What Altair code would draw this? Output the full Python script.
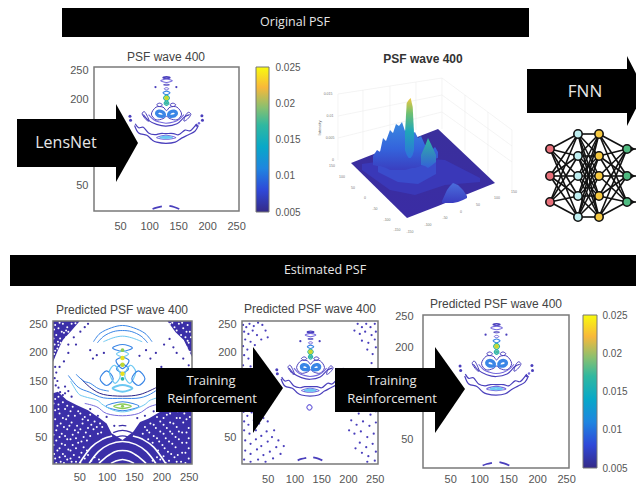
import altair as alt
import pandas as pd

W, H = 628, 477
INDIGO, VIOLET, BLUE, CYAN, TEAL, GREEN, YELLOW = "#4a3fbc", "#7468dc", "#3a86e6", "#6cc8f2", "#2ab4ac", "#8ccc58", "#e8e020"
TICKS = [50, 100, 150, 200, 250]
VISIBLE_Y_TICKS = [50, 200, 250]
CB_TICKS = [0.005, 0.01, 0.015, 0.02, 0.025]
PARULA = [(0, "#352a87"), (0.15, "#2f48d8"), (0.3, "#1f85e0"), (0.45, "#08a8c8"), (0.6, "#30b8a0"), (0.72, "#88c070"), (0.86, "#f8b83a"), (1, "#f9fb0e")]

# ---- contours shared by the three clean PSF panels (plot units) ----
C_CLOSED = [
    (INDIGO, 1.4, [(124, 237.5), (130, 239), (136, 237.5), (130, 236)]),
    (VIOLET, 1.1, [(120, 232), (130, 235), (140, 232), (130, 229)]),
    (INDIGO, 1.0, [(125, 225), (130, 226), (135, 225), (130, 224)]),
    (VIOLET, 1.0, [(126, 218), (130, 220), (134, 218), (130, 216)]),
    (BLUE, 1.1, [(124, 211), (130, 214), (136, 211), (130, 208)]),
    (TEAL, 1.3, [(125, 202), (130, 207), (135, 202), (130, 197)]),
    (TEAL, 1.2, [(126, 193), (130, 197), (134, 193), (130, 189)]),
    (INDIGO, 1.0, [(113, 190), (118, 193), (123, 190), (118, 187)]),
    (INDIGO, 1.0, [(136, 190), (141, 193), (146, 190), (141, 187)]),
    (INDIGO, 1.0, [(104, 174), (112, 186), (124, 186), (130, 180), (136, 186), (148, 186), (156, 174), (148, 164), (136, 166), (130, 170), (124, 166), (112, 164)]),
    (BLUE, 3.4, [(113, 175), (117, 179), (124, 177), (126, 171), (122, 170), (116, 171)]),
    (BLUE, 3.4, [(134, 171), (136, 177), (143, 179), (147, 175), (144, 171), (138, 170)]),
    (VIOLET, 1.1, [(113, 133), (129, 137), (146, 133), (129, 130)]),
    (CYAN, 1.6, [(119, 133), (129, 135), (140, 133), (129, 132)]),
    (INDIGO, 1.0, [(88, 174), (92, 178), (97, 170), (100, 162), (95, 164)]),
    (INDIGO, 1.0, [(160, 162), (163, 172), (168, 177), (172, 173), (166, 165)]),
]
C_OPEN = [
    (INDIGO, 1.1, [(90, 173), (99, 163), (113, 156), (129, 153), (148, 157), (161, 169), (170, 173)]),
    (VIOLET, 1.1, [(99, 173), (108, 164), (118, 160), (129, 158), (142, 160), (152, 165), (160, 173)]),
    (INDIGO, 1.2, [(76, 157), (82, 150), (90, 151), (99, 141), (110, 138), (119, 140), (129, 140), (142, 140), (151, 138), (162, 146), (171, 145), (182, 157)]),
    (INDIGO, 1.2, [(75, 154), (82, 141), (96, 137), (105, 129), (113, 125), (129, 123), (145, 125), (156, 132), (168, 138), (179, 144), (185, 154)]),
    (INDIGO, 1.8, [(106, 8.5), (113, 11), (122, 13)]),
    (INDIGO, 1.8, [(135, 14), (143, 12), (152, 8.5)]),
]
C_DOTS = [(111, 221, INDIGO, 5), (147, 221, INDIGO, 5), (130, 202, "#c8d830", 22), (130, 193, "#3fb8a0", 10),
          (67, 170, INDIGO, 9), (68, 163, INDIGO, 9), (191, 171, INDIGO, 9), (192, 163, INDIGO, 9), (182, 154, INDIGO, 7), (186, 158, VIOLET, 6)]

# ---- first predicted panel ----
P4_DARK_BOTTOM = [(2, 128), (11, 131), (27, 116), (45, 107), (66, 98), (88, 83), (100, 74), (109, 57), (129, 45), (149, 60), (161, 77), (177, 83), (198, 95), (223, 104), (241, 116), (256, 134)]
P4_DARK_TL = [(2, 184), (11, 205), (20, 223), (36, 240), (51, 257)]
P4_DARK_TR = [(211, 257), (226, 237), (241, 223), (256, 193)]
P4_CLOSED = [
    (BLUE, 1.1, [(111, 209), (129, 215), (147, 209), (129, 203)]),
    (CYAN, 1.1, [(118, 198), (129, 203), (140, 198), (129, 193)]),
    (BLUE, 1.2, [(117, 186), (129, 192), (141, 186), (129, 172)]),
    (BLUE, 1.2, [(118, 172), (129, 180), (140, 172), (129, 165)]),
    (BLUE, 1.2, [(88, 154), (100, 168), (112, 154), (100, 142)]),
    (CYAN, 1.2, [(105, 166), (115, 178), (125, 160), (115, 146)]),
    (CYAN, 1.2, [(133, 160), (143, 178), (153, 166), (143, 146)]),
    (BLUE, 1.2, [(146, 154), (158, 168), (170, 154), (158, 142)]),
    (CYAN, 2.0, [(111, 137), (129, 143), (147, 137), (129, 131)]),
    (GREEN, 1.3, [(113, 105), (129, 109), (145, 105), (129, 101)]),
    (BLUE, 1.1, [(99, 105), (129, 113), (159, 105), (129, 97)]),
]
P4_OPEN = [
    (BLUE, 1.0, [(76, 220), (88, 235), (109, 245), (129, 249), (149, 245), (170, 235), (183, 220)]),
    (BLUE, 1.0, [(83, 218), (95, 230), (112, 238), (129, 240), (146, 238), (163, 230), (175, 218)]),
    (CYAN, 1.0, [(94, 220), (112, 227), (129, 230), (146, 227), (165, 220)]),
    (BLUE, 1.0, [(30, 160), (48, 139), (69, 130), (94, 120), (129, 119), (161, 120), (186, 130), (210, 150)]),
    ("#2a2288", 1.0, [(52, 155), (72, 137), (94, 126), (129, 123), (161, 126), (190, 138)]),
    (CYAN, 1.0, [(34, 150), (48, 128), (60, 122), (82, 116), (94, 107), (112, 98), (129, 95), (146, 98), (168, 107), (180, 116), (200, 122)]),
    (BLUE, 1.0, [(44, 162), (58, 150), (70, 146), (86, 136), (104, 132)]),
    (VIOLET, 1.0, [(60, 110), (82, 104), (100, 92), (129, 88), (158, 92), (178, 104), (200, 110)]),
]
P4_WHITE_ARCS = [
    [(108, 3), (116, 7), (129, 10), (142, 7), (150, 3)],
    [(86, 3), (100, 15), (115, 24), (129, 26), (143, 24), (158, 15), (172, 3)],
    [(68, 3), (85, 24), (105, 37), (129, 42), (153, 37), (173, 24), (190, 3)],
    [(50, 3), (72, 32), (92, 46), (110, 52)],
    [(148, 52), (166, 46), (186, 32), (208, 3)],
]
P4_INDIGO_ARCS = [[(112, 58), (129, 62), (146, 58)], [(118, 50), (129, 52), (140, 50)], [(122, 70), (129, 71), (136, 70)]]
P4_DOTS = [(129, 191, YELLOW, 20), (129, 179, "#c0d830", 20), (129, 163, YELLOW, 20), (129, 205, GREEN, 14), (129, 154, TEAL, 14), (129, 105, GREEN, 10)]
P4_WHITE = [(6, 250), (12, 244), (20, 252), (28, 246), (36, 252), (8, 232), (15, 226), (22, 236), (30, 238), (5, 215), (10, 208), (16, 218), (4, 198), (8, 192), (26, 228),
            (43, 253), (14, 254), (4, 242), (18, 238), (26, 240), (3, 226), (11, 220), (6, 204), (12, 214),
            (216, 252), (224, 246), (232, 252), (240, 244), (248, 250), (252, 238), (236, 232), (244, 228), (228, 240), (250, 218), (246, 210), (252, 202), (238, 222),
            (220, 254), (238, 254), (246, 238), (254, 228), (232, 226), (248, 222),
            (6, 118), (12, 108), (20, 112), (6, 98), (14, 92), (24, 100), (34, 96), (42, 88), (52, 92), (60, 86), (70, 90), (78, 78), (88, 74), (6, 82), (16, 74), (26, 82), (36, 76), (46, 70), (56, 74), (66, 66), (76, 64), (90, 58),
            (8, 62), (18, 56), (28, 64), (38, 54), (48, 58), (58, 50), (70, 52), (8, 44), (18, 38), (28, 46), (38, 36), (48, 40), (58, 32), (10, 26), (20, 20), (30, 28), (40, 18), (6, 12), (16, 6), (28, 10), (44, 6), (60, 12), (72, 8),
            (12, 122), (3, 110), (28, 106), (38, 104), (12, 100), (30, 88), (48, 96), (56, 82), (66, 80), (20, 84), (10, 70), (22, 68), (32, 70), (42, 62), (52, 64), (62, 58), (72, 72), (82, 68), (84, 56), (92, 68),
            (3, 54), (14, 50), (24, 52), (34, 46), (44, 48), (54, 42), (64, 44), (3, 36), (14, 30), (24, 36), (34, 26), (44, 30), (54, 22), (64, 26), (4, 20), (14, 14), (24, 16), (34, 12), (50, 14), (66, 18), (78, 14), (86, 10), (8, 4), (22, 4), (36, 6), (52, 4),
            (250, 122), (240, 106), (230, 96), (216, 92), (204, 84), (192, 86), (180, 74), (170, 68), (250, 104), (242, 92), (228, 84), (216, 76), (204, 72), (190, 66), (178, 58),
            (252, 86), (240, 76), (228, 68), (216, 60), (204, 56), (192, 48), (250, 66), (238, 58), (226, 50), (214, 42), (202, 36), (250, 48), (238, 40), (226, 32), (212, 24), (250, 30), (238, 22), (224, 14), (250, 12), (236, 6), (214, 8), (198, 10),
            (246, 112), (236, 98), (222, 100), (210, 90), (198, 78), (186, 72), (174, 62), (166, 56), (246, 82), (234, 84), (222, 74), (210, 66), (198, 60), (186, 52), (176, 46), (246, 58), (232, 60), (220, 56), (208, 48), (196, 42), (184, 40), (246, 40), (232, 46), (220, 38), (206, 30), (194, 26), (244, 22), (230, 18), (218, 20), (204, 16), (192, 14), (244, 4), (228, 6), (208, 4), (184, 8)]
P4_SPECK = [(6, 175), (8, 165), (5, 155), (10, 150), (7, 142), (12, 138), (15, 130), (20, 125), (24, 128), (18, 120), (30, 215), (40, 228), (52, 238), (60, 246), (66, 252),
            (75, 190), (82, 196), (70, 205), (95, 200), (160, 195), (172, 205), (180, 190), (190, 200), (205, 215), (215, 225), (222, 210), (200, 175), (210, 165),
            (24, 140), (30, 132), (36, 122), (14, 175), (22, 185), (30, 200), (44, 215), (70, 100), (84, 88), (170, 88), (186, 96), (114, 70), (100, 86), (156, 84), (240, 190), (228, 200), (250, 178)]

# ---- second predicted panel: stray dots ----
P5_RING = [(123, 103), (128, 108), (133, 103), (128, 98)]
P5_DOTS = [(4, 250), (10, 246), (16, 252), (24, 248), (32, 254), (40, 250), (6, 238), (14, 234), (22, 240), (30, 232), (8, 224), (18, 220), (4, 212), (12, 206), (26, 214), (6, 196), (14, 190), (4, 178), (10, 170), (18, 176), (4, 160), (12, 152),
           (46, 240), (38, 224), (50, 228), (28, 196), (34, 182), (24, 160),
           (5, 95), (12, 88), (20, 94), (6, 78), (14, 72), (24, 80), (34, 74), (42, 84), (6, 62), (16, 56), (28, 62), (38, 52), (48, 60), (8, 44), (18, 38), (28, 46), (38, 34), (50, 42), (58, 50), (8, 26), (18, 20), (30, 28), (42, 18), (54, 24), (66, 32), (6, 10), (18, 6), (32, 10), (46, 6), (60, 12),
           (30, 110), (40, 96), (50, 78), (62, 62), (70, 44), (74, 20), (80, 34),
           (218, 252), (226, 246), (234, 252), (242, 246), (250, 252), (212, 240), (222, 234), (232, 238), (244, 232), (252, 238), (226, 222), (238, 218), (250, 224), (236, 206), (246, 198), (252, 210), (244, 182), (252, 170), (250, 150),
           (214, 120), (222, 112), (232, 118), (244, 112), (252, 120), (210, 100), (220, 92), (232, 98), (242, 90), (252, 96), (206, 80), (216, 72), (228, 78), (240, 70), (252, 76), (212, 56), (224, 60), (236, 50), (248, 56), (202, 62), (222, 40), (234, 32), (246, 38), (252, 24), (238, 16), (226, 22), (214, 30), (250, 8), (236, 6)]

# ---- 3D surface, in page units ----
S_BASE = [(351, 163, 163), (407, 141, 218), (438, 129, 206), (495, 183, 183)]
S_GLOW = [(362, 164, 170), (390, 160, 190), (415, 158, 195), (445, 160, 185), (480, 178, 182)]
S_GLOW2 = [(378, 164, 172), (398, 162, 182), (418, 160, 184), (436, 160, 174)]
S_RIDGE = [(373, 156, 165), (377, 150, 166), (380, 152, 166), (383, 138, 167), (386, 141, 168), (390, 130, 170), (393, 133, 170), (396, 124, 170), (399, 126, 170), (402, 122, 170), (405, 131, 170), (409, 126, 169), (412, 134, 168), (415, 132, 168), (418, 138, 167), (421, 136, 166), (425, 145, 165), (428, 146, 163), (432, 150, 160), (435, 147, 159), (438, 152, 158)]
S_PEAK = [(405, 133, 150), (406.7, 103, 155), (408.7, 100, 158), (410.7, 98, 158), (412.7, 107, 155), (414, 133, 150)]
S_SPIKE = [(421, 155, 165), (425, 146, 166), (428, 138, 168), (431, 144, 166), (436, 155, 162)]
S_HUMP = [(442, 201, 203), (447, 190, 203), (450, 186, 203), (453, 183, 203), (458, 185, 202), (463, 190, 200), (467, 196, 198)]
GRID3D = [[(338, 94), (442, 78), (512, 130)], [(338, 116), (442, 95), (512, 146)], [(338, 138), (442, 112), (512, 162)], [(338, 94), (338, 160)], [(442, 78), (442, 129)], [(512, 130), (512, 190)],
          [(363, 90), (363, 150)], [(390, 86), (390, 139)], [(416, 82), (416, 130)], [(465, 95), (465, 150)], [(488, 112), (488, 175)]]
S_LABELS = [("0.015", 328, 94), ("0.01", 330, 116), ("0.005", 330, 138), ("0", 333, 160), ("150", 332, 166), ("100", 342, 177), ("50", 353, 188), ("0", 365, 198), ("-50", 375, 209), ("-100", 387, 220), ("-150", 397, 230),
            ("-150", 410, 232), ("-100", 428, 225), ("-50", 445, 218), ("0", 461, 212), ("50", 478, 205), ("100", 497, 198), ("150", 514, 192)]

# ---- network ----
NET_LAYERS = [[(550, 149), (550, 176), (550, 202)],
              [(578, 134), (578, 156), (578, 176), (578, 196), (578, 217)],
              [(599, 134), (599, 156), (599, 176), (599, 196), (599, 217)],
              [(627, 149), (627, 176), (627, 202)]]
NET_COLORS = ["#e8707a", "#bfeef0", "#f5c840", "#4fba80"]

# ---- banners and arrows ----
BANNERS = [(62, 529, 8, 37), (10, 644, 255, 286)]
ARROWS = [(17, 116, 119, 167, 104, 182, 138, 143), (527, 627, 69, 113, 56, 126, 645, 91), (156, 253, 368, 412, 347, 433, 283, 388), (335, 435, 368, 412, 347, 433, 465, 389)]
TEXTS = [("Original PSF", 295, 22, 12.5), ("Estimated PSF", 325, 270, 12.5), ("LensNet", 66, 143, 16), ("FNN", 585, 92, 17),
         ("Training", 211, 381, 13), ("Reinforcement", 212, 399, 13), ("Training", 392, 381, 13), ("Reinforcement", 392, 399, 13)]
TITLES = [("PSF wave 400", 166, 57), ("Predicted PSF wave 400", 122, 310), ("Predicted PSF wave 400", 310, 309), ("Predicted PSF wave 400", 496, 304)]
TITLE_3D = [("PSF wave 400", 423, 59)]

PX = alt.Scale(domain=[8, 644], range=[0, 636], nice=False, zero=False)
PY = alt.Scale(domain=[8, 485], range=[0, 477], nice=False, zero=False)
LBL = dict(labelFont="Liberation Sans", labelColor="#555555", ticks=False, domain=False, grid=False, labelFlush=False, labelOverlap=False, title=None)


def path_rows(items):
    rows = []
    for i, (color, width, pts) in enumerate(items):
        for k, (x, y) in enumerate(pts):
            rows.append(dict(id=i, k=k, x=x, y=y, color=color, w=width))
    return pd.DataFrame(rows)


def grad(stops):
    return alt.LinearGradient(gradient="linear", stops=[alt.GradientStop(color=c, offset=o) for o, c in stops], x1=0, x2=0, y1=1, y2=0)


def panel(xd, yd, xr, yr, pad_x, pad_y, y_ticks, layers):
    sx = alt.Scale(domain=xd, range=[xr[0] - 8, xr[1] - 8], nice=False, zero=False)
    sy = alt.Scale(domain=yd, range=[yr[1] - 8, yr[0] - 8], nice=False, zero=False)
    axx = alt.Axis(orient="bottom", values=TICKS, offset=(yr[1] - 8) - H, labelPadding=pad_x, labelFontSize=11, **LBL)
    axy = alt.Axis(orient="left", values=y_ticks, offset=-(xr[0] - 8), labelPadding=pad_y, labelFontSize=11, **LBL)
    frame = alt.Chart(pd.DataFrame([dict(x=xd[0], x2=xd[1], y=yd[0], y2=yd[1])])).mark_rect(fillOpacity=0, stroke="#7a7a7a", strokeWidth=1.5).encode(
        x=alt.X("x:Q", scale=sx, axis=axx), x2="x2:Q", y=alt.Y("y:Q", scale=sy, axis=axy), y2="y2:Q")
    out = []
    for kind, df, kw in layers:
        ex = alt.X("x:Q", scale=sx, axis=None)
        ey = alt.Y("y:Q", scale=sy, axis=None)
        if kind == "area":
            out.append(alt.Chart(df).mark_area(orient="vertical", **kw).encode(x=ex, y=ey, y2="y2:Q"))
        elif kind == "closed":
            out.append(alt.Chart(df).mark_line(interpolate="cardinal-closed").encode(x=ex, y=ey, detail="id:N", order="k:Q", color=alt.Color("color:N", scale=None), strokeWidth=alt.StrokeWidth("w:Q", scale=None)))
        elif kind == "open":
            out.append(alt.Chart(df).mark_line(interpolate="cardinal").encode(x=ex, y=ey, detail="id:N", order="k:Q", color=alt.Color("color:N", scale=None), strokeWidth=alt.StrokeWidth("w:Q", scale=None)))
        elif kind == "dots":
            out.append(alt.Chart(df).mark_point(filled=True, opacity=1, shape="circle").encode(x=ex, y=ey, color=alt.Color("color:N", scale=None), size=alt.Size("s:Q", scale=None)))
    return [alt.layer(*out), frame]


def colorbar(x0, x1, y0, y1, pad):
    sx = alt.Scale(domain=[0, 1], range=[x0 - 8, x1 - 8], nice=False, zero=False)
    sy = alt.Scale(domain=[0.005, 0.025], range=[y1 - 8, y0 - 8], nice=False, zero=False)
    ax = alt.Axis(orient="right", values=CB_TICKS, offset=(x1 - 8) - W, labelPadding=pad, labelFontSize=10, format=".3~f", **LBL)
    df = pd.DataFrame([dict(a=0, b=1, lo=0.005, hi=0.025)])
    return alt.Chart(df).mark_rect(color=grad(PARULA), stroke="#777777", strokeWidth=1).encode(
        x=alt.X("a:Q", scale=sx, axis=None), x2="b:Q", y=alt.Y("lo:Q", scale=sy, axis=ax), y2="hi:Q")


def dots_df(items):
    return pd.DataFrame([dict(x=x, y=y, color=c, s=s) for x, y, c, s in items])


def area_df(pts, top):
    return pd.DataFrame([dict(x=x, y=y, y2=top) for x, y in pts])


clean = [("closed", path_rows(C_CLOSED), {}), ("open", path_rows(C_OPEN), {}), ("dots", dots_df(C_DOTS), {})]

p1 = panel([5, 255], [5, 256], (94, 239), (67, 211), 9, 6, VISIBLE_Y_TICKS, clean)
p6 = panel([3, 255], [4.5, 253], (423, 569), (315, 468), 5, 10, VISIBLE_Y_TICKS, clean)

DARK = "#3b2fa8"
p4 = panel([2, 256], [2, 257], (53, 192), (321, 464), 7, 6, TICKS, [
    ("area", area_df(P4_DARK_BOTTOM, 2), dict(color=DARK)),
    ("area", area_df(P4_DARK_TL, 257), dict(color=DARK)),
    ("area", area_df(P4_DARK_TR, 257), dict(color=DARK)),
    ("open", path_rows([("#ffffff", 1.6, a) for a in P4_WHITE_ARCS] + [(DARK, 1.2, a) for a in P4_INDIGO_ARCS]), {}),
    ("dots", dots_df([(x, y, "#ffffff", 4) for x, y in P4_WHITE] + [(x, y, DARK, 5) for x, y in P4_SPECK]), {}),
    ("closed", path_rows(P4_CLOSED), {}),
    ("open", path_rows(P4_OPEN), {}),
    ("dots", dots_df(P4_DOTS), {}),
])
p5 = panel([2, 256], [2, 257], (242, 378), (321, 464), 9, 6, VISIBLE_Y_TICKS, [
    ("dots", dots_df([(x, y, INDIGO, 5) for x, y in P5_DOTS]), {}),
    ("closed", path_rows([(VIOLET, 1.2, P5_RING)]), {}),
] + clean)


def page_x(axis=None):
    return alt.X("x:Q", scale=PX, axis=axis)


def page_y():
    return alt.Y("y:Q", scale=PY, axis=None)


def surf(pts, color):
    df = pd.DataFrame([dict(x=x, y=t, y2=b) for x, t, b in pts])
    return alt.Chart(df).mark_area(orient="vertical", color=color).encode(x=page_x(), y=page_y(), y2="y2:Q")


def page_lines(paths, color, width):
    df = path_rows([(color, width, p) for p in paths])
    return alt.Chart(df).mark_line(color=color, strokeWidth=width).encode(x=page_x(), y=page_y(), detail="id:N", order="k:Q")


grid3d = page_lines(GRID3D, "#ececec", 0.6)
s_lbl = alt.Chart(pd.DataFrame([dict(t=t, x=x, y=y) for t, x, y in S_LABELS])).mark_text(fontSize=3.5, color="#777777", font="Liberation Sans").encode(x=page_x(), y=page_y(), text="t:N")
s_int = alt.Chart(pd.DataFrame([dict(t="Intensity", x=320, y=128)])).mark_text(fontSize=4, angle=270, color="#666666", font="Liberation Sans").encode(x=page_x(), y=page_y(), text="t:N")
surface = alt.layer(
    grid3d, s_lbl, s_int,
    surf(S_BASE, grad([(0, "#3a2ca4"), (1, "#3a2f9c")])),
    surf(S_GLOW, "#3a38b8"),
    surf(S_GLOW2, "#3a4ccc"),
    surf(S_RIDGE, grad([(0, "#3a3fc0"), (0.45, "#3464dc"), (1, "#3a8ae0")])),
    surf(S_SPIKE, grad([(0, "#3460d8"), (1, "#30b8a0")])),
    surf(S_PEAK, grad([(0, "#2f70dc"), (0.45, "#1fa8b8"), (0.75, "#70c070"), (1, "#f0c840")])),
    surf(S_HUMP, grad([(0, "#3a3cc0"), (1, "#4a6edc")])),
)

# network
edges = []
for a, b in zip(NET_LAYERS[:-1], NET_LAYERS[1:]):
    for p in a:
        for q in b:
            edges.append([p, q])
out_lines = [[p, (636, p[1])] for p in NET_LAYERS[3]]
tips = pd.DataFrame([dict(x=633, y=p[1]) for p in NET_LAYERS[3]])
nodes = pd.DataFrame([dict(x=x, y=y, c=NET_COLORS[i]) for i, lay in enumerate(NET_LAYERS) for x, y in lay])
network = alt.layer(
    page_lines(edges, "#111111", 1.6),
    page_lines(out_lines, "#111111", 1.6),
    alt.Chart(tips).mark_point(shape="triangle-right", filled=True, size=28, color="#111111", opacity=1).encode(x=page_x(), y=page_y()),
    alt.Chart(nodes).mark_point(filled=True, size=70, opacity=1, stroke="#111111", strokeWidth=1.6).encode(x=page_x(), y=page_y(), fill=alt.Fill("c:N", scale=None)),
)

# banners, arrows, texts
rect_df = pd.DataFrame([dict(x=a, x2=b, y=c, y2=d) for a, b, c, d in BANNERS] + [dict(x=a[0], x2=a[1], y=a[2], y2=a[3]) for a in ARROWS])
heads = pd.DataFrame([r for i, a in enumerate(ARROWS) for r in (dict(id=i, x=a[1], y=a[4], y2=a[5]), dict(id=i, x=a[6], y=a[7], y2=a[7]))])
txt = pd.DataFrame([dict(t=t, x=x, y=y, s=s) for t, x, y, s in TEXTS])
ttl = pd.DataFrame([dict(t=t, x=x, y=y) for t, x, y in TITLES])
ttl3 = pd.DataFrame([dict(t=t, x=x, y=y) for t, x, y in TITLE_3D])
page = alt.layer(
    alt.Chart(ttl).mark_text(font="Liberation Sans", fontSize=12, color="#444444").encode(x=page_x(), y=page_y(), text="t:N"),
    alt.Chart(ttl3).mark_text(font="Liberation Sans", fontSize=12, fontWeight="bold", color="#333333").encode(x=page_x(), y=page_y(), text="t:N"),
    alt.Chart(rect_df).mark_rect(color="#000000").encode(x=page_x(), x2="x2:Q", y=page_y(), y2="y2:Q"),
    alt.Chart(heads).mark_area(orient="vertical", color="#000000").encode(x=page_x(), y=page_y(), y2="y2:Q", detail="id:N"),
    alt.Chart(txt).mark_text(font="Open Sans", color="#e6e6e6").encode(x=page_x(), y=page_y(), text="t:N", size=alt.Size("s:Q", scale=None)),
)

chart = alt.layer(
    surface, *p1, colorbar(256, 269, 67, 212, 6), *p4, *p5, *p6, colorbar(583, 597, 315, 468, 5), network, page,
).resolve_scale(x="independent", y="independent").resolve_axis(x="independent", y="independent").properties(
    width=W, height=H, autosize=alt.AutoSizeParams(type="none"), padding=0,
).configure_view(stroke=None)

chart.save("out.html", embed_options={"renderer": "svg", "actions": False})
